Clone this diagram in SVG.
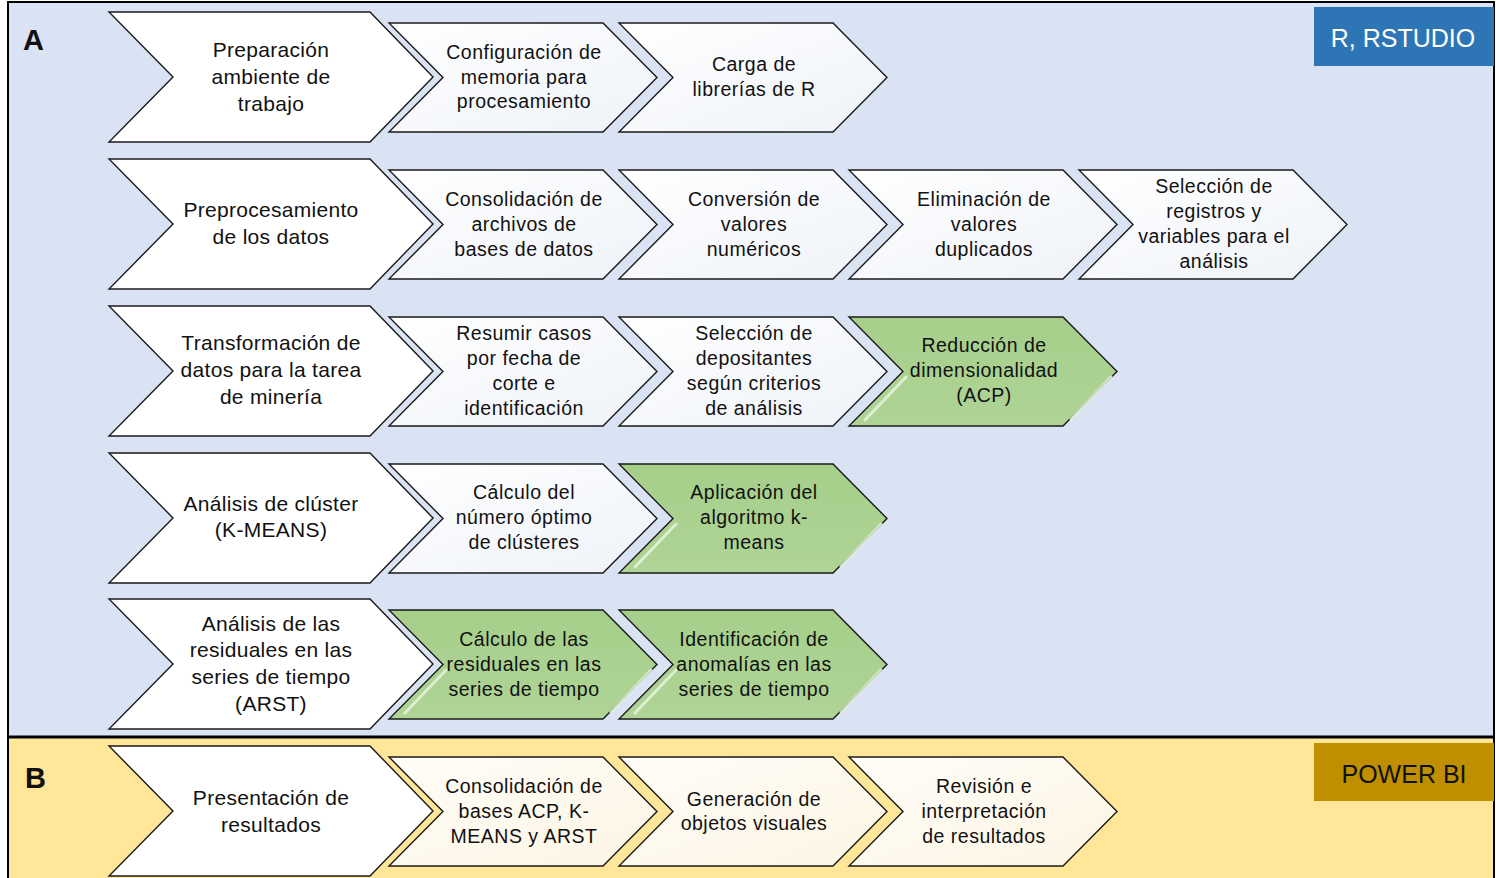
<svg xmlns="http://www.w3.org/2000/svg" width="1496" height="878" viewBox="0 0 1496 878">
<style>
.big{fill:#ffffff;stroke:#1a1a1a;stroke-width:1.4}
.sm{fill:url(#gw);stroke:#1a1a1a;stroke-width:1.4}
.smb{fill:url(#gy);stroke:#1a1a1a;stroke-width:1.4}
.gr{fill:url(#gg);stroke:#1a1a1a;stroke-width:1.4}
.hl{fill:none;stroke:#e6f3dc;stroke-width:3;stroke-linecap:round;opacity:0.85}
text{font-family:"Liberation Sans",Arial,sans-serif;fill:#111;text-anchor:middle}
.tb{font-size:21px;letter-spacing:0.3px}
.ts{font-size:19.5px;letter-spacing:0.5px}
.lab{font-size:29px;font-weight:bold;text-anchor:start}
.tag{font-size:25px}
</style>
<defs>
<linearGradient id="gw" x1="0" y1="0" x2="1" y2="1"><stop offset="0" stop-color="#ffffff"/><stop offset="1" stop-color="#eef2f8"/></linearGradient>
<linearGradient id="gy" x1="0" y1="0" x2="1" y2="1"><stop offset="0" stop-color="#fffdf8"/><stop offset="1" stop-color="#fdf5e4"/></linearGradient>
<linearGradient id="gg" x1="0" y1="0" x2="0" y2="1"><stop offset="0" stop-color="#a6cf8a"/><stop offset="1" stop-color="#afd496"/></linearGradient>
<path id="bigc" d="M0,0 H261 L324,65 L261,130 H0 L64,65 Z"/>
<path id="smc" d="M0,0 H214 L268,54.5 L214,109 H0 L54,54.5 Z"/>
<path id="hlp" d="M57,60 L16,103 M262,60 L222,102"/>
</defs>

<g id="panelA">
<rect x="8" y="2" width="1486" height="735" fill="#dae3f3" stroke="#000" stroke-width="2"/>
<text class="lab" x="23" y="50">A</text>
<rect x="1314" y="7" width="180" height="59" fill="#2e75b6"/>
<text class="tag" x="1403" y="47" style="fill:#ffffff">R, RSTUDIO</text>
</g>
<g id="panelB">
<rect x="8" y="737" width="1486" height="145" fill="#ffe699" stroke="#000" stroke-width="2"/>
<line x1="8" y1="737" x2="1494" y2="737" stroke="#000" stroke-width="3"/>
<text class="lab" x="25" y="788">B</text>
<rect x="1314" y="743" width="180" height="58" fill="#bf8f00"/>
<text class="tag" x="1404" y="783">POWER BI</text>
</g>

<g id="connectors"/>

<!-- Row 1 -->
<g id="n1"><use href="#bigc" class="big" x="109" y="12"/>
<text class="tb" x="271"><tspan x="271" y="57">Preparación</tspan><tspan x="271" y="84">ambiente de</tspan><tspan x="271" y="111">trabajo</tspan></text></g>
<g id="n1a"><use href="#smc" class="sm" x="389" y="23"/>
<text class="ts"><tspan x="524" y="59">Configuración de</tspan><tspan x="524" y="84">memoria para</tspan><tspan x="524" y="108">procesamiento</tspan></text></g>
<g id="n1b"><use href="#smc" class="sm" x="619" y="23"/>
<text class="ts"><tspan x="754" y="71">Carga de</tspan><tspan x="754" y="96">librerías de R</tspan></text></g>

<!-- Row 2 -->
<g id="n2"><use href="#bigc" class="big" x="109" y="159"/>
<text class="tb"><tspan x="271" y="217">Preprocesamiento</tspan><tspan x="271" y="244">de los datos</tspan></text></g>
<g id="n2a"><use href="#smc" class="sm" x="389" y="170"/>
<text class="ts"><tspan x="524" y="206">Consolidación de</tspan><tspan x="524" y="231">archivos de</tspan><tspan x="524" y="256">bases de datos</tspan></text></g>
<g id="n2b"><use href="#smc" class="sm" x="619" y="170"/>
<text class="ts"><tspan x="754" y="206">Conversión de</tspan><tspan x="754" y="231">valores</tspan><tspan x="754" y="256">numéricos</tspan></text></g>
<g id="n2c"><use href="#smc" class="sm" x="849" y="170"/>
<text class="ts"><tspan x="984" y="206">Eliminación de</tspan><tspan x="984" y="231">valores</tspan><tspan x="984" y="256">duplicados</tspan></text></g>
<g id="n2d"><use href="#smc" class="sm" x="1079" y="170"/>
<text class="ts"><tspan x="1214" y="193">Selección de</tspan><tspan x="1214" y="218">registros y</tspan><tspan x="1214" y="243">variables para el</tspan><tspan x="1214" y="268">análisis</tspan></text></g>

<!-- Row 3 -->
<g id="n3"><use href="#bigc" class="big" x="109" y="306"/>
<text class="tb"><tspan x="271" y="350">Transformación de</tspan><tspan x="271" y="377">datos para la tarea</tspan><tspan x="271" y="404">de minería</tspan></text></g>
<g id="n3a"><use href="#smc" class="sm" x="389" y="317"/>
<text class="ts"><tspan x="524" y="340">Resumir casos</tspan><tspan x="524" y="365">por fecha de</tspan><tspan x="524" y="390">corte e</tspan><tspan x="524" y="415">identificación</tspan></text></g>
<g id="n3b"><use href="#smc" class="sm" x="619" y="317"/>
<text class="ts"><tspan x="754" y="340">Selección de</tspan><tspan x="754" y="365">depositantes</tspan><tspan x="754" y="390">según criterios</tspan><tspan x="754" y="415">de análisis</tspan></text></g>
<g id="n3c"><use href="#smc" class="gr" x="849" y="317"/><use href="#hlp" class="hl" x="849" y="317"/>
<text class="ts"><tspan x="984" y="352">Reducción de</tspan><tspan x="984" y="377">dimensionalidad</tspan><tspan x="984" y="402">(ACP)</tspan></text></g>

<!-- Row 4 -->
<g id="n4"><use href="#bigc" class="big" x="109" y="453"/>
<text class="tb"><tspan x="271" y="511">Análisis de clúster</tspan><tspan x="271" y="537">(K-MEANS)</tspan></text></g>
<g id="n4a"><use href="#smc" class="sm" x="389" y="464"/>
<text class="ts"><tspan x="524" y="499">Cálculo del</tspan><tspan x="524" y="524">número óptimo</tspan><tspan x="524" y="549">de clústeres</tspan></text></g>
<g id="n4b"><use href="#smc" class="gr" x="619" y="464"/><use href="#hlp" class="hl" x="619" y="464"/>
<text class="ts"><tspan x="754" y="499">Aplicación del</tspan><tspan x="754" y="524">algoritmo k-</tspan><tspan x="754" y="549">means</tspan></text></g>

<!-- Row 5 -->
<g id="n5"><use href="#bigc" class="big" x="109" y="599"/>
<text class="tb"><tspan x="271" y="631">Análisis de las</tspan><tspan x="271" y="657">residuales en las</tspan><tspan x="271" y="684">series de tiempo</tspan><tspan x="271" y="711">(ARST)</tspan></text></g>
<g id="n5a"><use href="#smc" class="gr" x="389" y="610"/><use href="#hlp" class="hl" x="389" y="610"/>
<text class="ts"><tspan x="524" y="646">Cálculo de las</tspan><tspan x="524" y="671">residuales en las</tspan><tspan x="524" y="696">series de tiempo</tspan></text></g>
<g id="n5b"><use href="#smc" class="gr" x="619" y="610"/><use href="#hlp" class="hl" x="619" y="610"/>
<text class="ts"><tspan x="754" y="646">Identificación de</tspan><tspan x="754" y="671">anomalías en las</tspan><tspan x="754" y="696">series de tiempo</tspan></text></g>

<!-- Row 6 (B) -->
<g id="n6"><use href="#bigc" class="big" x="109" y="746"/>
<text class="tb"><tspan x="271" y="805">Presentación de</tspan><tspan x="271" y="832">resultados</tspan></text></g>
<g id="n6a"><use href="#smc" class="smb" x="389" y="757"/>
<text class="ts"><tspan x="524" y="793">Consolidación de</tspan><tspan x="524" y="818">bases ACP, K-</tspan><tspan x="524" y="843">MEANS y ARST</tspan></text></g>
<g id="n6b"><use href="#smc" class="smb" x="619" y="757"/>
<text class="ts"><tspan x="754" y="806">Generación de</tspan><tspan x="754" y="830">objetos visuales</tspan></text></g>
<g id="n6c"><use href="#smc" class="smb" x="849" y="757"/>
<text class="ts"><tspan x="984" y="793">Revisión e</tspan><tspan x="984" y="818">interpretación</tspan><tspan x="984" y="843">de resultados</tspan></text></g>
</svg>
